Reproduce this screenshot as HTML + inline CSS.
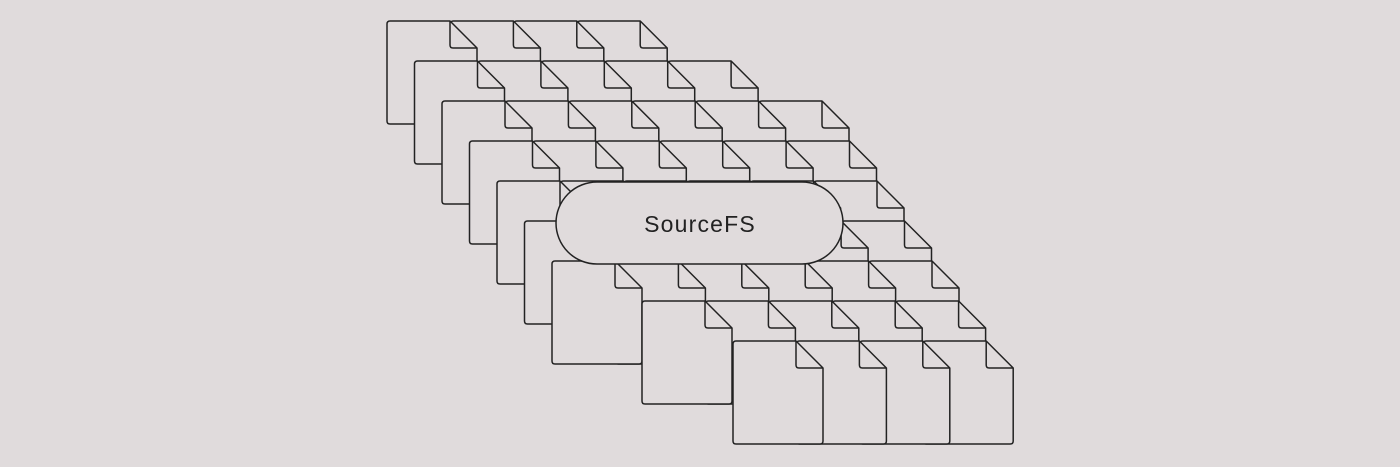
<!DOCTYPE html>
<html><head><meta charset="utf-8"><style>
html,body{margin:0;padding:0;background:#e0dbdc;}
svg{display:block}
</style></head><body>
<svg width="1400" height="467" viewBox="0 0 1400 467" xmlns="http://www.w3.org/2000/svg">
<defs>
<g id="f">
<path d="M3,0 H63 L90,27 V100 Q90,103 87,103 H3 Q0,103 0,100 V3 Q0,0 3,0 Z" fill="#e0dbdc" stroke="#222" stroke-width="1.5" stroke-linejoin="round"/>
<path d="M63,0 V24 Q63,27 66,27 H90" fill="none" stroke="#222" stroke-width="1.5" stroke-linejoin="round"/>
</g>
</defs>
<use href="#f" x="577.2" y="21"/><use href="#f" x="513.8" y="21"/><use href="#f" x="450.4" y="21"/><use href="#f" x="387" y="21"/>
<use href="#f" x="668.1" y="61"/><use href="#f" x="604.7" y="61"/><use href="#f" x="541.3" y="61"/><use href="#f" x="477.9" y="61"/><use href="#f" x="414.5" y="61"/>
<use href="#f" x="759" y="101"/><use href="#f" x="695.6" y="101"/><use href="#f" x="632.2" y="101"/><use href="#f" x="568.8" y="101"/><use href="#f" x="505.4" y="101"/><use href="#f" x="442" y="101"/>
<use href="#f" x="786.5" y="141"/><use href="#f" x="723.1" y="141"/><use href="#f" x="659.7" y="141"/><use href="#f" x="596.3" y="141"/><use href="#f" x="532.9" y="141"/><use href="#f" x="469.5" y="141"/>
<use href="#f" x="814" y="181"/><use href="#f" x="750.6" y="181"/><use href="#f" x="687.2" y="181"/><use href="#f" x="623.8" y="181"/><use href="#f" x="560.4" y="181"/><use href="#f" x="497" y="181"/>
<use href="#f" x="841.5" y="221"/><use href="#f" x="778.1" y="221"/><use href="#f" x="714.7" y="221"/><use href="#f" x="651.3" y="221"/><use href="#f" x="587.9" y="221"/><use href="#f" x="524.5" y="221"/>
<use href="#f" x="869" y="261"/><use href="#f" x="805.6" y="261"/><use href="#f" x="742.2" y="261"/><use href="#f" x="678.8" y="261"/><use href="#f" x="615.4" y="261"/><use href="#f" x="552" y="261"/>
<use href="#f" x="895.6" y="301"/><use href="#f" x="832.2" y="301"/><use href="#f" x="768.8" y="301"/><use href="#f" x="705.4" y="301"/><use href="#f" x="642" y="301"/>
<use href="#f" x="923.2" y="341"/><use href="#f" x="859.8" y="341"/><use href="#f" x="796.4" y="341"/><use href="#f" x="733" y="341"/>
<rect x="556" y="182" width="287" height="82" rx="41" ry="41" fill="#e0dbdc" stroke="#222" stroke-width="1.5"/>
<text x="700" y="232" text-anchor="middle" font-family="Liberation Sans, sans-serif" font-size="23" letter-spacing="1.2" fill="#222">SourceFS</text>
</svg>
</body></html>
